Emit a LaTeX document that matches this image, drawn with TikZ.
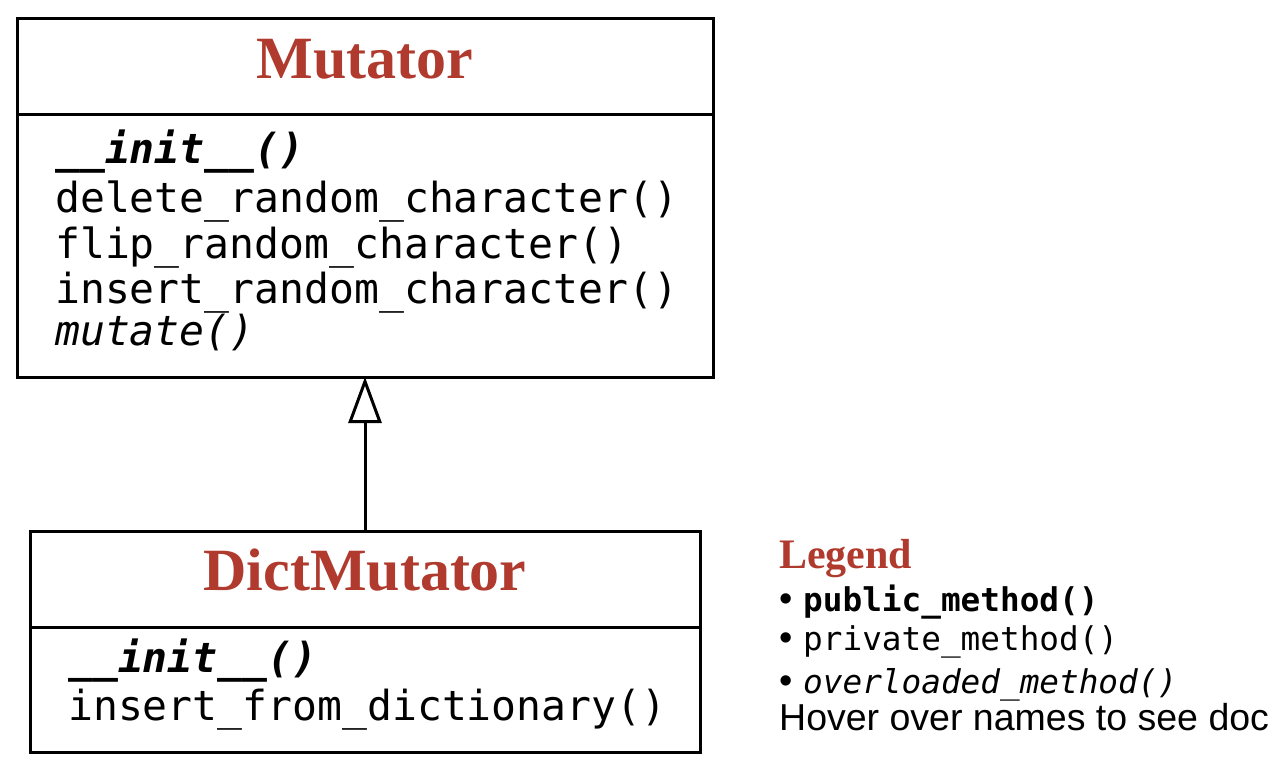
\documentclass[tikz,border=0pt]{standalone}
\usepackage{fontspec}
\setmonofont{DejaVu Sans Mono}
\newfontfamily\titlefont{Liberation Serif}
\newfontfamily\legendfont{Liberation Sans}
\usepackage{tikz}
\usetikzlibrary{arrows.meta,positioning}
\definecolor{titlered}{HTML}{B03A2E}
\newcommand{\legbullet}{\makebox[24pt][l]{\legendfont\mdseries\upshape\fontsize{38}{38}\selectfont •}}
\tikzset{
  classbox/.style={draw, line width=3pt, inner sep=0pt, outer sep=0pt},
  classname/.style={font=\titlefont\bfseries\fontsize{60}{60}\selectfont, text=titlered, anchor=base, inner sep=0pt},
  method/.style={font=\ttfamily\fontsize{41.4}{46}\selectfont, anchor=base west, inner sep=0pt},
  legendtitle/.style={font=\titlefont\bfseries\fontsize{42}{42}\selectfont, text=titlered, anchor=base west, inner sep=0pt},
  legenditem/.style={font=\ttfamily\fontsize{32.7}{40}\selectfont, anchor=base west, inner sep=0pt},
}

\begin{document}
\begin{tikzpicture}[x=1pt,y=-1pt]
      \useasboundingbox (0,0) rectangle (1287,771);

      % Class Mutator
      \node[classbox, minimum width=696pt, minimum height=96pt] (mutHead) at (365,66) {};
      \node[classbox, minimum width=696pt, minimum height=263pt, below=0pt of mutHead] (mutBody) {};
      \node[classname] (mutName) at (365,78) {Mutator};
      \node[method] (mutInit) at (55,163) {\bfseries\itshape \_\_init\_\_()};
      \node[method] (mutDelete) at (55,212) {delete\_random\_character()};
      \node[method] (mutFlip) at (55,258) {flip\_random\_character()};
      \node[method] (mutInsert) at (55,303) {insert\_random\_character()};
      \node[method] (mutMutate) at (55,345) {\itshape mutate()};

      % Class DictMutator
      \node[classbox, minimum width=670pt, minimum height=96pt] (dictHead) at (365,579) {};
      \node[classbox, minimum width=670pt, minimum height=125pt, below=0pt of dictHead] (dictBody) {};
      \node[classname] (dictName) at (365,590) {DictMutator};
      \node[method] (dictInit) at (68,672) {\bfseries\itshape \_\_init\_\_()};
      \node[method] (dictInsert) at (68,720) {insert\_from\_dictionary()};

      % Inheritance
      \draw[line width=3pt, -{Triangle[open, length=46pt, width=33pt]}] (dictHead.north) -- (mutBody.south);

      % Legend
      \node[legendtitle] (legTitle) at (779,568) {Legend};
      \node[legenditem] (legPublic) at (779,611) {\legbullet\bfseries public\_method()};
      \node[legenditem] (legPrivate) at (779,650) {\legbullet private\_method()};
      \node[legenditem] (legOverload) at (779,693) {\legbullet\itshape overloaded\_method()};
      \node[anchor=base west, inner sep=0pt, font=\legendfont\fontsize{37.5}{40}\selectfont] (legHover) at (779,730) {Hover over names to see doc};
    \end{tikzpicture}
\end{document}
